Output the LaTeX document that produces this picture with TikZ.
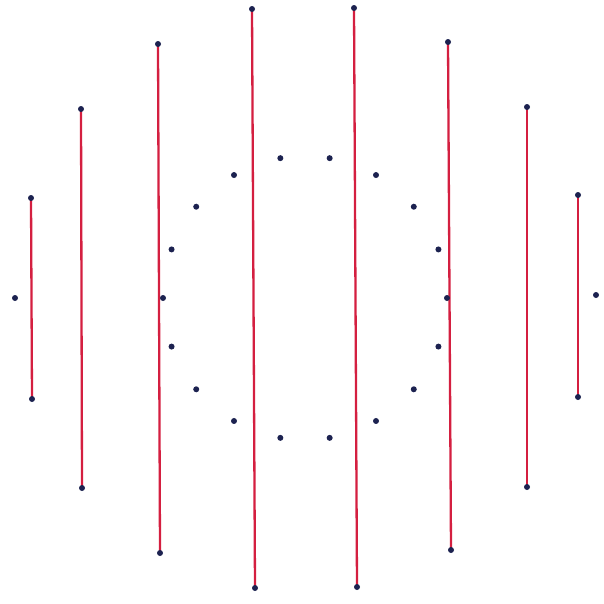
\documentclass[tikz,border=0pt]{standalone}
\usetikzlibrary{backgrounds}
\definecolor{dotblue}{HTML}{1C2250}
\definecolor{linered}{HTML}{D41F40}
\tikzset{
  pt/.style={circle,fill=dotblue,inner sep=0pt,minimum size=6pt},
  redline/.style={draw=linered,line width=2.3pt}
}
\begin{document}
\begin{tikzpicture}[x=1pt,y=-1pt]
\useasboundingbox (0,0) rectangle (604,603);
% vertical segments: index/xtop/ytop/xbot/ybot
\foreach \i/\xa/\ya/\xb/\yb in {1/31/198/32/399, 2/81/109/82/488, 3/158/44/160/553, 4/252/9/255/588, 5/354/8/357/587, 6/448/42/451/550, 7/527/107/527/487, 8/578/195/578/397}{
  \node[pt] (t\i) at (\xa,\ya) {};
  \node[pt] (b\i) at (\xb,\yb) {};
  \begin{pgfonlayer}{background}
    \draw[redline] (t\i.center) -- (b\i.center);
  \end{pgfonlayer}
}
% isolated dots
\node[pt] (l) at (15,298) {};
\node[pt] (r) at (596,295) {};
% ring of 18 dots
\foreach \k in {0,...,17}{
  \node[pt] (c\k) at ({305+142*cos(20*\k)},{298-142*sin(20*\k)}) {};
}
\end{tikzpicture}
\end{document}
